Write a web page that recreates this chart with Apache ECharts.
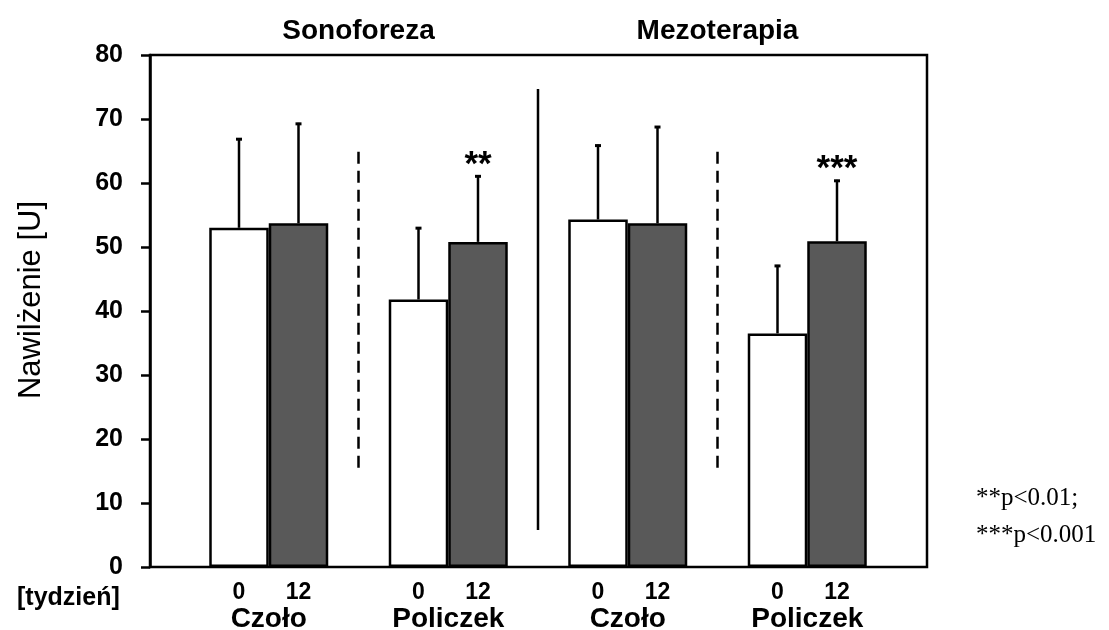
<!DOCTYPE html>
<html>
<head>
<meta charset="utf-8">
<script src="https://cdn.jsdelivr.net/npm/echarts@6/dist/echarts.min.js"></script>
<style>html,body{margin:0;padding:0;background:#fff}#c{width:1109px;height:630px}</style>
</head>
<body>
<div id="c"></div>
<script>
// ---- data ----
const treatments = ['Sonoforeza', 'Mezoterapia'];
const groups = ['Czoło', 'Policzek', 'Czoło', 'Policzek'];
const weeks = ['0', '12'];
const week0Mean = [53.0, 41.8, 54.3, 36.5];
const week0Sd = [14.0, 11.3, 11.7, 10.7];
const week12Mean = [53.7, 50.8, 53.7, 50.9];
const week12Sd = [15.7, 10.4, 15.2, 9.6];
const significance12 = ['', '**', '', '***'];
const yMin = 0, yMax = 80, yStep = 10;
const weekAxisName = '[tydzień]';
const yAxisName = 'Nawilżenie [U]';
const footnotes = ['**p<0.01;', '***p<0.001'];
// dividers: after group index, from value, to value, dashed
const dividerAfter = [0, 1, 2];
const dividerFrom = [15.5, 5.8, 15.5];
const dividerTo = [65.8, 74.7, 65.8];
const dividerDashed = [true, false, true];

// ---- styles ----
const SANS = 'Arial, "Liberation Sans", sans-serif';
const SERIF = '"Times New Roman", "Liberation Serif", serif';
const BAR_W = 59.5;
const LW = 2.5;
const GRAY = '#595959';

const chart = echarts.init(document.getElementById('c'), null, {renderer: 'canvas'});

function errRender(means, sds, sign, sig) {
  return function (params, api) {
    const i = params.dataIndex;
    const p0 = api.coord([i, means[i]]);
    const p1 = api.coord([i, means[i] + sds[i]]);
    const x = p0[0] + sign * BAR_W / 2;
    const children = [
      {type: 'line', shape: {x1: x, y1: p0[1], x2: x, y2: p1[1]}, style: {stroke: '#000', lineWidth: LW}},
      {type: 'line', shape: {x1: x - 3, y1: p1[1] + 1, x2: x + 3, y2: p1[1] + 1}, style: {stroke: '#000', lineWidth: 3}}
    ];
    if (sig && sig[i]) {
      children.push({type: 'text', style: {text: sig[i], x: x, y: p1[1] - 10, font: 'bold 35px ' + SANS, fill: '#000', textAlign: 'center', textVerticalAlign: 'middle'}});
    }
    return {type: 'group', children: children};
  };
}

const option = {
  animation: false,
  backgroundColor: '#fff',
  grid: [
    {left: 150, right: 182, top: 55, bottom: 63, outerBoundsMode: 'none', containLabel: false,
      show: true, borderColor: '#000', borderWidth: LW, backgroundColor: 'transparent'},
    {left: 179, right: 212, top: 55, bottom: 63, outerBoundsMode: 'none', containLabel: false}
  ],
  xAxis: [
    {gridIndex: 0, type: 'value', min: 0, max: 1, show: false},
    {gridIndex: 1, type: 'category', data: groups,
      axisLine: {show: false}, axisTick: {show: false}, splitLine: {show: false},
      axisLabel: {margin: 38, color: '#000', fontSize: 28, fontWeight: 'bold', fontFamily: SANS}}
  ],
  yAxis: [
    {gridIndex: 0, type: 'value', min: yMin, max: yMax, interval: yStep,
      axisLine: {show: true, lineStyle: {color: '#000', width: LW}},
      axisTick: {show: true, length: 9, lineStyle: {color: '#000', width: LW}},
      splitLine: {show: false},
      axisLabel: {margin: 27, color: '#000', fontSize: 25, fontWeight: 'bold', fontFamily: SANS}},
    {gridIndex: 1, type: 'value', min: yMin, max: yMax, interval: yStep, show: false}
  ],
  series: [
    {type: 'bar', name: weeks[0], xAxisIndex: 1, yAxisIndex: 1, data: week0Mean,
      barWidth: BAR_W, barGap: '0%',
      itemStyle: {color: '#fff', borderColor: '#000', borderWidth: LW},
      label: {show: true, position: 'bottom', distance: 14, formatter: weeks[0], color: '#000', fontSize: 23, fontWeight: 'bold', fontFamily: SANS}},
    {type: 'bar', name: weeks[1], xAxisIndex: 1, yAxisIndex: 1, data: week12Mean,
      barWidth: BAR_W, barGap: '0%',
      itemStyle: {color: GRAY, borderColor: '#000', borderWidth: LW},
      label: {show: true, position: 'bottom', distance: 14, formatter: weeks[1], color: '#000', fontSize: 23, fontWeight: 'bold', fontFamily: SANS}},
    {type: 'custom', xAxisIndex: 1, yAxisIndex: 1, clip: false, z: 5,
      data: week0Mean.map((v, i) => [i, v]), renderItem: errRender(week0Mean, week0Sd, -1, null)},
    {type: 'custom', xAxisIndex: 1, yAxisIndex: 1, clip: false, z: 5,
      data: week12Mean.map((v, i) => [i, v]), renderItem: errRender(week12Mean, week12Sd, 1, significance12)},
    // dividers
    {type: 'custom', xAxisIndex: 1, yAxisIndex: 1, clip: false, z: 4,
      data: dividerAfter.map((k, i) => [k, dividerFrom[i]]),
      renderItem: function (params, api) {
        const i = params.dataIndex;
        const k = dividerAfter[i];
        const a = api.coord([k, dividerFrom[i]]);
        const b = api.coord([k + 1, dividerTo[i]]);
        const x = (a[0] + b[0]) / 2;
        return {type: 'line', shape: {x1: x, y1: a[1], x2: x, y2: b[1]},
          style: {stroke: '#000', lineWidth: LW, lineDash: dividerDashed[i] ? [12, 7] : null}};
      }},
    // treatment titles
    {type: 'custom', xAxisIndex: 1, yAxisIndex: 1, clip: false, z: 4,
      data: treatments.map((t, i) => [i * 2, yMax]),
      renderItem: function (params, api) {
        const t = params.dataIndex;
        const a = api.coord([2 * t, yMax]);
        const b = api.coord([2 * t + 1, yMax]);
        return {type: 'text', style: {text: treatments[t], x: (a[0] + b[0]) / 2, y: 31,
          font: 'bold 28px ' + SANS, fill: '#000', textAlign: 'center', textVerticalAlign: 'middle'}};
      }}
  ],
  graphic: [
    {type: 'text', x: 31, y: 300, rotation: Math.PI / 2,
      style: {text: yAxisName, font: '31px ' + SANS, fill: '#000', textAlign: 'center', textVerticalAlign: 'middle'}},
    {type: 'text', x: 17, y: 598,
      style: {text: weekAxisName, font: 'bold 25px ' + SANS, fill: '#000', textAlign: 'left', textVerticalAlign: 'middle'}},
    {type: 'text', x: 976, y: 498,
      style: {text: footnotes[0], font: '25px ' + SERIF, fill: '#000', textAlign: 'left', textVerticalAlign: 'middle'}},
    {type: 'text', x: 976, y: 535,
      style: {text: footnotes[1], font: '25px ' + SERIF, fill: '#000', textAlign: 'left', textVerticalAlign: 'middle'}}
  ]
};
chart.setOption(option);
</script>
</body>
</html>
